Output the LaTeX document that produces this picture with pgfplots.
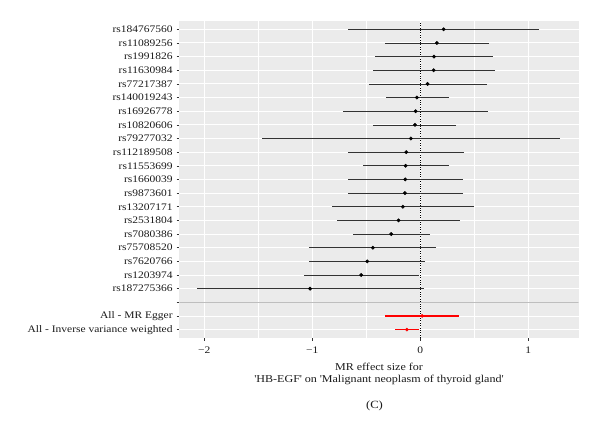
\documentclass[border=0pt]{standalone}
\usepackage{pgfplots}
\pgfplotsset{compat=1.18}
\usepackage{pgfplotstable}
\usepackage{fontspec}
\setmainfont{Liberation Serif}[FakeStretch=1.15]
\definecolor{panelbg}{HTML}{EBEBEB}
\definecolor{sepgrey}{HTML}{BEBEBE}
\definecolor{txtcol}{HTML}{1A1A1A}
\definecolor{tickgrey}{HTML}{333333}

\pgfplotstableread{
y  b       lo      hi
23  0.216  -0.667  1.103
22  0.154  -0.331  0.633
21  0.127  -0.420  0.677
20  0.124  -0.439  0.692
19  0.068  -0.476  0.615
18 -0.031  -0.321  0.263
17 -0.043  -0.711  0.630
16 -0.049  -0.436  0.334
15 -0.087  -1.461  1.297
14 -0.130  -0.667  0.408
13 -0.136  -0.531  0.263
12 -0.139  -0.673  0.399
11 -0.142  -0.673  0.392
10 -0.161  -0.816  0.500
9  -0.201  -0.772  0.371
8  -0.269  -0.624  0.087
7  -0.439  -1.029  0.148
6  -0.491  -1.026  0.046
5  -0.547  -1.081  -0.012
4  -1.020  -2.065  0.030
}\snps

\pgfplotstableread{
y  b       lo      hi
2   0.017  -0.322  0.357
1  -0.123  -0.232  -0.009
}\summ

\begin{document}
\begin{tikzpicture}
\useasboundingbox (0,0) rectangle (600bp,430bp);
\begin{axis}[
  at={(179.3bp,92.2bp)}, anchor=south west,
  scale only axis, width=399.4bp, height=316.7bp,
  xmin=-2.231, xmax=1.467, ymin=0.4, ymax=23.6,
  axis background/.style={fill=panelbg},
  axis line style={draw=none},
  xtick={-2,-1,0,1},
  xticklabels={−2,−1,0,1},
  minor xtick={-1.5,-0.5,0.5},
  ytick={1,...,23},
  yticklabels={All - Inverse variance weighted,All - MR Egger,{},rs187275366,rs1203974,rs7620766,rs75708520,rs7080386,rs2531804,rs13207171,rs9873601,rs1660039,rs11553699,rs112189508,rs79277032,rs10820606,rs16926778,rs140019243,rs77217387,rs11630984,rs1991826,rs11089256,rs184767560},
  xtick pos=left, ytick pos=left,
  tick align=outside,
  major tick length=2.7bp, minor tick length=0pt,
  tick style={tickgrey, line width=0.5bp},
  grid=both,
  major grid style={white, line width=0.9bp},
  minor grid style={white, line width=0.45bp},
  ticklabel style={font=\fontsize{10bp}{12bp}\selectfont, text=txtcol},
  /pgf/number format/assume math mode=true,
  xticklabel style={yshift=-2.5bp},
  yticklabel style={xshift=-0.5bp},
  xlabel={MR effect size for\\\textquotesingle HB-EGF\textquotesingle{} on \textquotesingle Malignant neoplasm of thyroid gland\textquotesingle},
  xlabel style={font=\fontsize{10.5bp}{11.9bp}\selectfont, text=txtcol, align=center, at={(axis description cs:0.5,0)}, anchor=north, yshift=-25bp, inner sep=0pt},
]
\addplot[black, dash pattern=on 0.6bp off 1.8bp, line width=0.6bp] coordinates {(0,0.4) (0,23.6)};
\addplot[black, line width=0.6bp, only marks, mark=*, mark size=1.6bp,
  error bars/.cd, x dir=both, x explicit, error mark=none,
  error bar style={line width=0.6bp, black!80}]
  table[x=b, y=y, x error plus expr=\thisrow{hi}-\thisrow{b}, x error minus expr=\thisrow{b}-\thisrow{lo}] {\snps};
\addplot[red, only marks, mark=*, mark size=1.6bp,
  error bars/.cd, x dir=both, x explicit, error mark=none,
  error bar style={line width=1.6bp, red}]
  table[x=b, y=y, x error plus expr=\thisrow{hi}-\thisrow{b}, x error minus expr=\thisrow{b}-\thisrow{lo}] {\summ};
\addplot[sepgrey, line width=1.3bp] coordinates {(-2.231,3) (1.467,3)};
\end{axis}
\node[font=\fontsize{11bp}{13bp}\selectfont, text=txtcol] at (374.5bp,24bp) {(C)};
\end{tikzpicture}
\end{document}
